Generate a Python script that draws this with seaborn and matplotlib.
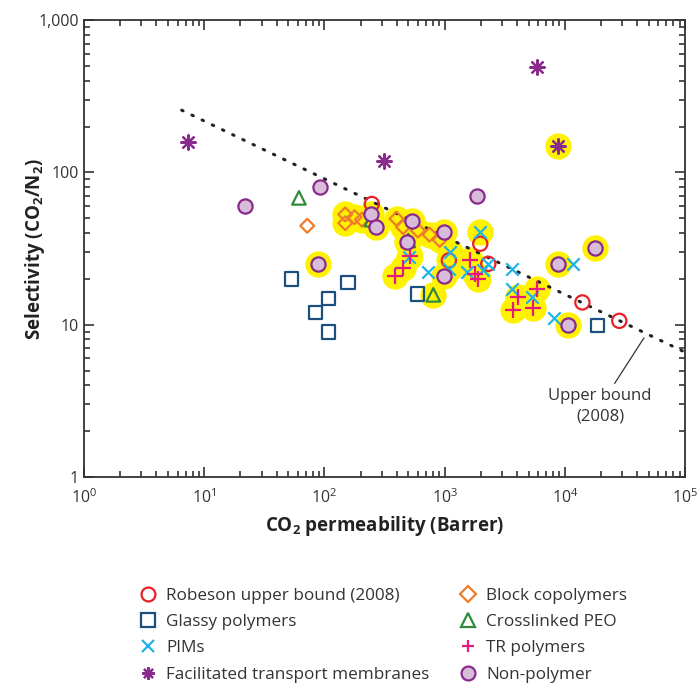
import numpy as np
import pandas as pd
import matplotlib
matplotlib.use("Agg")
from matplotlib import pyplot as plt
from matplotlib.lines import Line2D
from matplotlib.ticker import LogLocator, NullFormatter
import seaborn as sns

# ---- data (CO2 permeability in Barrer, CO2/N2 selectivity) ----
robeson_x = [248, 1085, 1980, 2310, 14000, 28400]
robeson_y = [62, 26.4, 34, 25.1, 14.0, 10.6]
robeson_hl = [0, 1, 0, 0, 0, 0]

glassy_x = [53.4, 84, 108, 108, 157, 593, 18700]
glassy_y = [19.9, 12, 14.9, 8.96, 18.9, 15.9, 9.85]
glassy_hl = [0, 0, 0, 0, 0, 0, 0]

pims_x = [508, 733, 1110, 1085, 1527, 1970, 2100, 2310, 3610, 3610, 5300, 8120, 11770]
pims_y = [27.7, 22.1, 29.9, 23.3, 22.1, 40.5, 22.7, 25.1, 23.3, 17.2, 15.1, 11.0, 25.1]
pims_hl = [1, 0, 1, 1, 0, 1, 0, 0, 0, 0, 0, 0, 0]

facil_x = [7.38, 312, 5860, 8710]
facil_y = [158, 119, 493, 149]
facil_hl = [0, 0, 0, 1]

block_x = [149, 149, 178, 205, 72, 398, 452, 600, 750, 910]
block_y = [53, 46.4, 50.8, 48.9, 44.6, 49.6, 43.7, 41.5, 39, 36]
block_hl = [1, 1, 1, 1, 0, 1, 1, 1, 1, 1]

xpeo_x = [61.4, 246, 499, 805]
xpeo_y = [68, 48.9, 35.7, 15.7]
xpeo_hl = [0, 1, 1, 1]

tr_x = [385, 453, 515, 1627, 1800, 1880, 3730, 4100, 5470, 5840]
tr_y = [21, 23.5, 28.4, 26.4, 21.5, 20, 12.5, 15.1, 12.9, 17.2]
tr_hl = [1, 1, 1, 1, 1, 1, 1, 1, 1, 1]

nonpoly_x = [22, 92.5, 88, 243, 270, 484, 532, 995, 995, 1870, 8830, 10700, 17800]
nonpoly_y = [60, 80, 25.1, 53.5, 44, 35, 48.3, 40.5, 21, 69.5, 25.1, 10, 32]
nonpoly_hl = [0, 0, 1, 1, 1, 1, 1, 1, 1, 0, 1, 1, 1]

# Robeson 2008 upper bound, end points of the straight log-log line
bound_x = [6.5, 1e5]
bound_y = [256, 6.6]

sns.set_style("ticks")
plt.rcParams["font.family"] = ["Open Sans", "DejaVu Sans"]
plt.rcParams["mathtext.fontset"] = "custom"
plt.rcParams["mathtext.rm"] = "Open Sans"
plt.rcParams["mathtext.bf"] = "Open Sans:bold"

TXT = "#333333"
series = [
    # label, x, y, hl, marker, face, edge, size
    ("Robeson upper bound (2008)", robeson_x, robeson_y, robeson_hl, "o", "none", "#e8202a", 105),
    ("Glassy polymers", glassy_x, glassy_y, glassy_hl, "s", "none", "#1b4f80", 95),
    ("PIMs", pims_x, pims_y, pims_hl, "x", None, "#1eb4e8", 80),
    ("Facilitated transport membranes", facil_x, facil_y, facil_hl, (8, 2, 0), None, "#8a2a8c", 110),
    ("Block copolymers", block_x, block_y, block_hl, "D", "none", "#f07c2a", 50),
    ("Crosslinked PEO", xpeo_x, xpeo_y, xpeo_hl, "^", "none", "#2e8b3a", 95),
    ("TR polymers", tr_x, tr_y, tr_hl, "+", None, "#e6197e", 120),
    ("Non-polymer", nonpoly_x, nonpoly_y, nonpoly_hl, "o", "#d8bcd9", "#8a2a8c", 105),
]

fig = plt.figure(figsize=(6.97, 6.84), dpi=100)
ax = fig.add_axes([0.1205, 0.3026, 0.8623, 0.6681])

# yellow highlight discs behind selected points
rows = []
for lab, xs, ys, hl, *_ in series:
    for x, y, h in zip(xs, ys, hl):
        if h:
            rows.append((x, y))
hl_df = pd.DataFrame(rows, columns=["x", "y"])
sns.scatterplot(data=hl_df, x="x", y="y", s=360, color="#fff200", linewidth=0,
                ax=ax, zorder=1, legend=False)

ax.plot(bound_x, bound_y, linestyle=(0, (0.5, 3.2)), dash_capstyle="round",
        color="#222222", linewidth=2.2, zorder=2)

handles = []
for lab, xs, ys, hl, mk, fc, ec, sz in series:
    df = pd.DataFrame({"x": xs, "y": ys})
    if fc is None:
        sns.scatterplot(data=df, x="x", y="y", marker=mk, s=sz, color=ec,
                        linewidth=1.6, ax=ax, zorder=3, legend=False)
        h = Line2D([], [], marker=mk, linestyle="none", markersize=9,
                   color=ec, markeredgewidth=1.6)
    else:
        sns.scatterplot(data=df, x="x", y="y", marker=mk, s=sz, facecolor=fc,
                        edgecolor=ec, linewidth=1.6, ax=ax, zorder=3, legend=False)
        h = Line2D([], [], marker=mk, linestyle="none",
                   markersize=8 if mk == "D" else 10,
                   markerfacecolor=fc, markeredgecolor=ec, markeredgewidth=1.6)
    handles.append((h, lab))

ax.set_xscale("log")
ax.set_yscale("log")
ax.set_xlim(1, 1e5)
ax.set_ylim(1, 1000)
ax.set_yticks([1, 10, 100, 1000], labels=["1", "10", "100", "1,000"])
for axis in (ax.xaxis, ax.yaxis):
    axis.set_minor_locator(LogLocator(base=10, subs=np.arange(2, 10), numticks=100))
    axis.set_minor_formatter(NullFormatter())

for s in ax.spines.values():
    s.set_linewidth(1.3)
    s.set_color(TXT)
ax.tick_params(which="both", direction="in", top=True, right=True,
               bottom=True, left=True, color=TXT,
               width=1.2, labelsize=11.5, labelcolor=TXT)
ax.tick_params(which="major", length=7)
ax.tick_params(which="minor", length=4.3)
ax.tick_params(axis="x", which="both", pad=8)

ax.set_xlabel(r"CO$_\mathbf{2}$ permeability (Barrer)", fontsize=13.5,
              fontweight="bold", color="#222222", labelpad=5)
ax.set_ylabel(r"Selectivity (CO$_\mathbf{2}$/N$_\mathbf{2}$)", fontsize=13.5,
              fontweight="bold", color="#222222", labelpad=-6)

ax.annotate("Upper bound\n(2008)", xy=(45600, 8.2), xytext=(19600, 3.85),
            ha="center", va="top", fontsize=12, color=TXT, linespacing=1.4,
            arrowprops=dict(arrowstyle="-", color=TXT, lw=0.9, shrinkA=1, shrinkB=0))

fig.legend([h for h, _ in handles], [l for _, l in handles], ncol=2,
           loc="upper center", bbox_to_anchor=(0.549, 0.163), frameon=False,
           fontsize=12.3, labelcolor=TXT, handletextpad=0.45, columnspacing=1.65,
           labelspacing=0.6, handlelength=1.2)

fig.savefig("out.png", dpi=100)
